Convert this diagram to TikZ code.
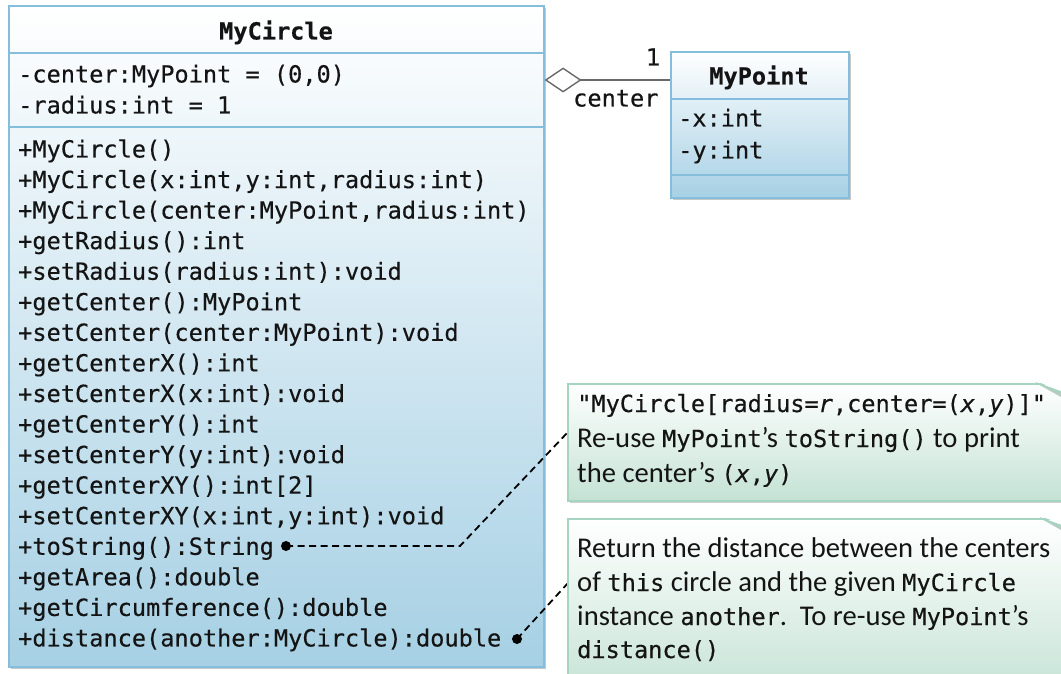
\documentclass[tikz,border=0pt]{standalone}
\usepackage{fontspec}
\setmainfont{Carlito}
\newfontfamily\mono{DejaVu Sans Mono}[ItalicFont={DejaVu Sans Mono Oblique},BoldFont={DejaVu Sans Mono Bold},FakeBold=0.35]
\usetikzlibrary{arrows.meta,shadows}
\definecolor{umlborder}{RGB}{132,190,220}
\definecolor{umlfill}{RGB}{166,208,228}
\definecolor{noteborder}{RGB}{165,212,192}
\definecolor{notefill}{RGB}{196,226,212}
\definecolor{foldfill}{RGB}{180,205,195}
\definecolor{ink}{RGB}{20,20,20}
\definecolor{agggray}{RGB}{105,105,105}
\newcommand\codetxt[1]{{\mono\fontsize{23.6}{28}\selectfont #1}}
\tikzset{
  umlbox/.style={draw=umlborder, line width=1.6pt, top color=white, bottom color=umlfill,
    rectangle, inner sep=0pt, anchor=north west,
    drop shadow={shadow xshift=2.5pt, shadow yshift=-2.5pt, fill=black, opacity=0.22}},
  notebox/.style={draw=noteborder, line width=1.6pt, top color=white, bottom color=notefill,
    rectangle, inner sep=0pt, anchor=north west,
    drop shadow={shadow xshift=2pt, shadow yshift=-2.5pt, fill=black, opacity=0.18}},
  divider/.style={draw=umlborder, line width=1.6pt},
  mline/.style={anchor=base west, inner sep=0pt, font=\mono\fontsize{23.6}{28}\selectfont, text=ink},
  mhead/.style={anchor=base, inner sep=0pt, font=\mono\bfseries\fontsize{23.6}{28}\selectfont, text=ink},
  sline/.style={anchor=base west, inner sep=0pt, font=\fontsize{28.6}{32}\selectfont, text=ink},
  dashconn/.style={dash pattern=on 7pt off 4.5pt, line width=1.8pt, black},
  dotmark/.style={circle, fill=black, inner sep=0pt, minimum size=10pt},
  aggline/.style={draw=agggray, line width=1.4pt, {Diamond[open, length=37pt, width=25pt, line width=1.4pt]}-},
}
\begin{document}
\begin{tikzpicture}[x=1pt,y=-1pt]
\useasboundingbox (0,0) rectangle (1061,674);
\clip (0,0) rectangle (1061,674);

% ---------------- MyCircle ----------------
\node[umlbox, minimum width=535pt, minimum height=661pt] (MyCircle) at (8,5) {};
\draw[divider] (MyCircle.west |- 0,53) -- (MyCircle.east |- 0,53);
\draw[divider] (MyCircle.west |- 0,127) -- (MyCircle.east |- 0,127);
\node[mhead] (mcname) at (276,39.5) {MyCircle};
\node[mline] (a1) at (18,82.5) {-center:MyPoint = (0,0)};
\node[mline] (a2) at (18,113.5) {-radius:int = 1};
\foreach \t [count=\i from 0] in {
  +MyCircle(),
  +MyCircle(x:int{,}y:int{,}radius:int),
  +MyCircle(center:MyPoint{,}radius:int),
  +getRadius():int,
  +setRadius(radius:int):void,
  +getCenter():MyPoint,
  +setCenter(center:MyPoint):void,
  +getCenterX():int,
  +setCenterX(x:int):void,
  +getCenterY():int,
  +setCenterY(y:int):void,
  +getCenterXY():int[2],
  +setCenterXY(x:int{,}y:int):void,
  +toString():String,
  +getArea():double,
  +getCircumference():double,
  +distance(another:MyCircle):double}
  \node[mline] (m\i) at (18,157.5+30.56*\i) {\t};

% ---------------- MyPoint ----------------
\node[umlbox, minimum width=178pt, minimum height=146pt] (MyPoint) at (670,51) {};
\draw[divider] (MyPoint.west |- 0,99) -- (MyPoint.east |- 0,99);
\draw[divider] (MyPoint.west |- 0,175) -- (MyPoint.east |- 0,175);
\node[mhead] (mpname) at (759,84.5) {MyPoint};
\node[mline] (px) at (678,126.5) {-x:int};
\node[mline] (py) at (678,158.5) {-y:int};

% ---------------- aggregation ----------------
\draw[aggline] (MyCircle.east |- 0,80) -- (MyPoint.west |- 0,80);
\node[mline, anchor=base] (mult) at (653,65.5) {1};
\node[mline] (role) at (573,106.5) {center};

% ---------------- connectors ----------------
\node[dotmark] (d1) at (286,546) {};
\node[dotmark] (d2) at (517,639) {};
\coordinate (k1) at (460,546);
\coordinate (n1) at (568,432);
\coordinate (n2) at (568,583);
\draw[dashconn] (d1.center) -- (k1) -- (n1);
\draw[dashconn] (d2.center) -- (n2);

% ---------------- note 1 ----------------
\node[notebox, minimum width=520pt, minimum height=117pt] (note1) at (567,383) {};
\fill[white] (1036,381) -- (1090,381) -- (1090,402.5) -- cycle;
\fill[foldfill] (1036,383) -- (1061,392) -- (1061,397) -- cycle;
\draw[draw=noteborder, line width=1.6pt] (1036,383) -- (1062,392.4);
\node[sline] (t11) at (577,412) {\codetxt{"MyCircle[radius=\textit{r},center=(\textit{x},\textit{y})]"}};
\node[sline] (t12) at (577,447) {Re-use \codetxt{MyPoint}’s \codetxt{toString()} to print};
\node[sline] (t13) at (577,482) {the center’s \codetxt{(\textit{x},\textit{y})}};

% ---------------- note 2 ----------------
\node[notebox, minimum width=520pt, minimum height=180pt] (note2) at (567,518) {};
\fill[white] (1040,516) -- (1090,516) -- (1090,534) -- cycle;
\fill[foldfill] (1040,518) -- (1061,525.5) -- (1061,530) -- cycle;
\draw[draw=noteborder, line width=1.6pt] (1040,518) -- (1062,526);
\node[sline] (t21) at (577,557) {Return the distance between the centers};
\node[sline] (t22) at (577,591) {of \codetxt{this} circle and the given \codetxt{MyCircle}};
\node[sline] (t23) at (577,625) {instance \codetxt{another}.\ \ To re-use \codetxt{MyPoint}’s};
\node[sline] (t24) at (577,658) {\codetxt{distance()}};
\end{tikzpicture}
\end{document}
